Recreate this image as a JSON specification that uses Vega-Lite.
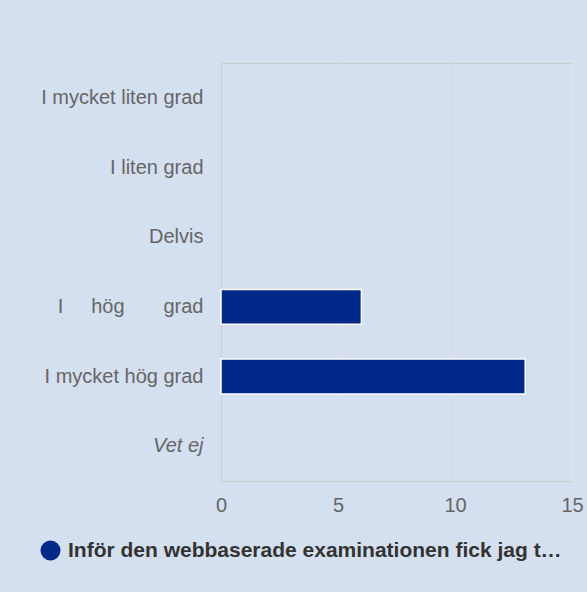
{
  "$schema": "https://vega.github.io/schema/vega-lite/v6.json",
  "width": 351,
  "height": 418,
  "autosize": {"type": "none"},
  "padding": {"left": 221, "top": 63, "right": 15, "bottom": 111},
  "background": "#d4dff0",
  "config": {
    "view": {"stroke": "#cccccc", "strokeWidth": 1},
    "font": "Liberation Sans"
  },
  "data": {
    "values": [
      {"category": "I mycket liten grad", "count": 0, "series": "Inför den webbaserade examinationen fick jag t…"},
      {"category": "I liten grad", "count": 0, "series": "Inför den webbaserade examinationen fick jag t…"},
      {"category": "Delvis", "count": 0, "series": "Inför den webbaserade examinationen fick jag t…"},
      {"category": "I hög grad", "count": 6, "series": "Inför den webbaserade examinationen fick jag t…"},
      {"category": "I mycket hög grad", "count": 13, "series": "Inför den webbaserade examinationen fick jag t…"},
      {"category": "Vet ej", "count": 0, "series": "Inför den webbaserade examinationen fick jag t…"}
    ]
  },
  "mark": {"type": "bar"},
  "encoding": {
    "y": {
      "field": "category",
      "type": "nominal",
      "sort": null,
      "scale": {"domain": ["I mycket liten grad", "I liten grad", "Delvis", "I hög grad", "I mycket hög grad", "Vet ej"], "paddingInner": 0.5, "paddingOuter": 0.25},
      "axis": {
        "title": null,
        "ticks": false,
        "domain": true,
        "domainColor": "#cccccc",
        "labelPadding": 18,
        "labelFontSize": 20,
        "labelColor": "#666666",
        "labelLimit": 0,
        "labelExpr": "datum.value === 'I hög grad' ? 'I\u00a0\u00a0\u00a0\u00a0\u00a0hög\u00a0\u00a0\u00a0\u00a0\u00a0\u00a0\u00a0grad' : datum.label",
        "labelFontStyle": {"condition": {"test": "datum.value === 'Vet ej'", "value": "italic"}, "value": "normal"}
      }
    },
    "x": {
      "field": "count",
      "type": "quantitative",
      "scale": {"domain": [0, 15], "nice": false},
      "axis": {
        "title": null,
        "values": [0, 5, 10, 15],
        "ticks": false,
        "domainColor": "#cccccc",
        "gridColor": "#e2e2e2",
        "labelPadding": 14,
        "labelFontSize": 20,
        "labelColor": "#666666",
        "labelFlush": false
      }
    },
    "color": {
      "field": "series",
      "type": "nominal",
      "scale": {"range": ["#00288a"]},
      "legend": {
        "title": null,
        "orient": "none",
        "legendX": -181,
        "legendY": 477,
        "symbolType": "circle",
        "symbolSize": 400,
        "symbolStrokeWidth": 0,
        "labelFontSize": 21,
        "labelFontWeight": "bold",
        "labelColor": "#333333",
        "labelLimit": 0,
        "labelOffset": 7
      }
    },
    "stroke": {"condition": {"test": "datum.count > 0", "value": "white"}, "value": null},
    "strokeWidth": {"value": 1.5}
  }
}
